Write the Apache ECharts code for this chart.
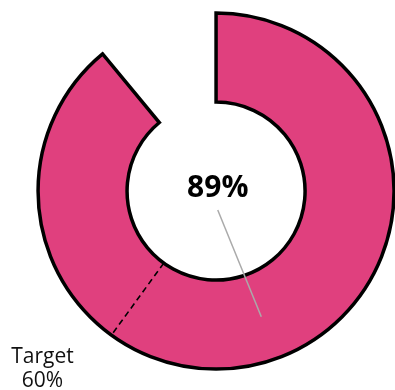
<!DOCTYPE html>
<html>
<head>
<meta charset="utf-8">
<style>
  html, body { margin: 0; padding: 0; background: #fff; }
  #chart { width: 395px; height: 390px; }
</style>
<script src="https://cdn.jsdelivr.net/npm/echarts@6/dist/echarts.min.js"></script>
</head>
<body>
<div id="chart"></div>
<script>
// Progress value and target, both in percent of the full ring
const progressValue = 89;
const targetValue = 60;
const targetLabel = 'Target';

// Ring geometry, shared by the pie and the polar overlay (radius scale 0-100)
const ringCenter = ['54.7%', '49%'];
const outerRadius = 178;
const innerPct = 50;           // inner edge as percent of the outer radius
const labelAnchor = [10.7, 48.6]; // [radius %, angle %] just under the centre value

const ringColor = '#E0407E';
const font = 'Open Sans';

// invisible point that only carries a label
const hiddenPoint = { symbol: 'circle', symbolSize: 1, itemStyle: { color: 'rgba(0,0,0,0)' } };

const chart = echarts.init(document.getElementById('chart'), null, { renderer: 'canvas' });

chart.setOption({
  animation: false,
  backgroundColor: '#fff',
  polar: { center: ringCenter, radius: outerRadius },
  angleAxis: {
    type: 'value', min: 0, max: 100, startAngle: 90, clockwise: true,
    show: false
  },
  radiusAxis: { type: 'value', min: 0, max: 100, show: false },
  series: [
    {
      type: 'pie',
      center: ringCenter,
      radius: [outerRadius * innerPct / 100, outerRadius],
      startAngle: 90,
      clockwise: true,
      silent: true,
      label: { show: false },
      labelLine: { show: false },
      emphasis: { disabled: true },
      data: [
        {
          value: progressValue,
          itemStyle: { color: ringColor, borderColor: '#000', borderWidth: 3.5, borderJoin: 'miter' }
        },
        {
          value: 100 - progressValue,
          itemStyle: { color: 'rgba(0,0,0,0)', borderWidth: 0 }
        }
      ]
    },
    {
      // target marker across the ring, with its caption
      type: 'line',
      coordinateSystem: 'polar',
      z: 5,
      silent: true,
      symbol: 'none',
      lineStyle: { color: '#000', width: 1.6, type: [6, 4] },
      data: [
        [innerPct, targetValue],
        Object.assign({
          value: [100, targetValue],
          label: {
            show: true,
            position: 'inside',
            offset: [-69, 34],
            formatter: targetLabel + '\n' + targetValue + '%',
            fontFamily: font,
            fontSize: 21,
            lineHeight: 24,
            color: '#111',
            align: 'center',
            verticalAlign: 'middle'
          }
        }, hiddenPoint)
      ]
    },
    {
      // leader from the middle of the progress arc to the centre value
      type: 'line',
      coordinateSystem: 'polar',
      z: 5,
      silent: true,
      symbol: 'none',
      lineStyle: { color: '#aaa', width: 1.5 },
      data: [
        [(100 + innerPct) / 2, progressValue / 2],
        Object.assign({
          value: labelAnchor,
          label: {
            show: true,
            position: 'top',
            distance: 6,
            formatter: progressValue + '%',
            fontFamily: font,
            fontWeight: 'bold',
            fontSize: 30,
            color: '#000'
          }
        }, hiddenPoint)
      ]
    }
  ]
});
</script>
</body>
</html>
